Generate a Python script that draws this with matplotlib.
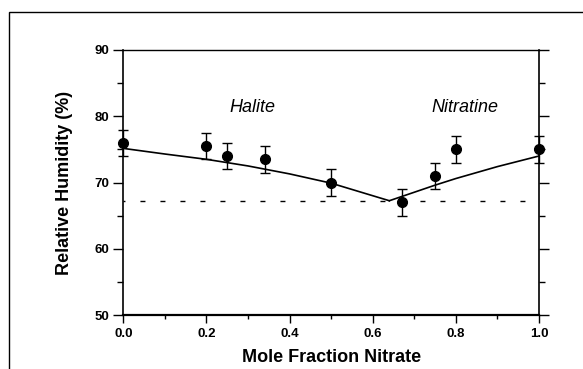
import matplotlib.pyplot as plt
from matplotlib.patches import Rectangle
from matplotlib.ticker import MultipleLocator, FormatStrFormatter

plt.rcParams['font.family'] = ['Liberation Sans', 'DejaVu Sans']

# measured deliquescence RH vs nitrate mole fraction
x_frac = [0.0, 0.2, 0.25, 0.34, 0.5, 0.67, 0.75, 0.8, 1.0]
rh_meas = [76.0, 75.5, 74.0, 73.5, 70.0, 67.0, 71.0, 75.0, 75.0]
rh_err = [2, 2, 2, 2, 2, 2, 2, 2, 2]

# model curves for the two solid phases
halite_x = [0.0, 0.1, 0.2, 0.3, 0.4, 0.5, 0.64]
halite_rh = [75.15, 74.3, 73.5, 72.5, 71.3, 69.9, 67.25]
nitratine_x = [0.64, 0.75, 0.8, 0.9, 1.0]
nitratine_rh = [67.25, 69.6, 70.6, 72.4, 74.0]
eutonic_rh = 67.25

fig = plt.figure(figsize=(5.83, 3.69), dpi=100)
ax = fig.add_axes([0.2115, 0.1463, 0.713, 0.7182])

# frame around the whole figure (runs off the right and bottom edges)
fig.patches.append(Rectangle((9 / 583, -0.2), 1.2, 0.2 + (369 - 12.3) / 369,
                             transform=fig.transFigure, fill=False,
                             edgecolor='black', linewidth=1.0))

ax.axhline(eutonic_rh, color='black', linewidth=1.0,
           linestyle=(2.2, (3.6, 10.8)))
ax.plot(halite_x, halite_rh, color='black', linewidth=1.2)
ax.plot(nitratine_x, nitratine_rh, color='black', linewidth=1.2)
ax.errorbar(x_frac, rh_meas, yerr=rh_err, fmt='o', color='black',
            markersize=7, capsize=3.3, elinewidth=1.0, capthick=1.0,
            clip_on=False, zorder=5)

ax.text(0.31, 81.3, 'Halite', fontsize=13, style='italic',
        ha='center', va='center')
ax.text(0.822, 81.3, 'Nitratine', fontsize=13, style='italic',
        ha='center', va='center')

ax.set_xlim(0, 1.0)
ax.set_ylim(50, 90)
ax.xaxis.set_major_locator(MultipleLocator(0.2))
ax.xaxis.set_minor_locator(MultipleLocator(0.1))
ax.xaxis.set_major_formatter(FormatStrFormatter('%.1f'))
ax.yaxis.set_major_locator(MultipleLocator(10))
ax.yaxis.set_minor_locator(MultipleLocator(5))

ax.tick_params(axis='x', which='major', direction='out', length=5.5,
               width=1.0, pad=4, labelsize=9.5)
ax.tick_params(axis='x', which='minor', direction='out', length=3,
               width=1.0)
ax.tick_params(axis='y', which='major', direction='out', length=7,
               width=1.0, pad=3, labelsize=9.5, right=True)
ax.tick_params(axis='y', which='minor', direction='out', length=4,
               width=1.0, right=True)
for lab in ax.get_xticklabels() + ax.get_yticklabels():
    lab.set_fontweight('bold')

ax.spines['bottom'].set_linewidth(1.6)
ax.spines['left'].set_linewidth(1.2)
ax.spines['right'].set_linewidth(1.2)
ax.spines['top'].set_linewidth(1.0)

ax.set_xlabel('Mole Fraction Nitrate', fontsize=13, fontweight='bold')
ax.set_ylabel('Relative Humidity (%)', fontsize=13, fontweight='bold')
ax.xaxis.set_label_coords(0.5, -0.13)
ax.yaxis.set_label_coords(-0.121, 0.5)

fig.savefig('out.png', dpi=100)
